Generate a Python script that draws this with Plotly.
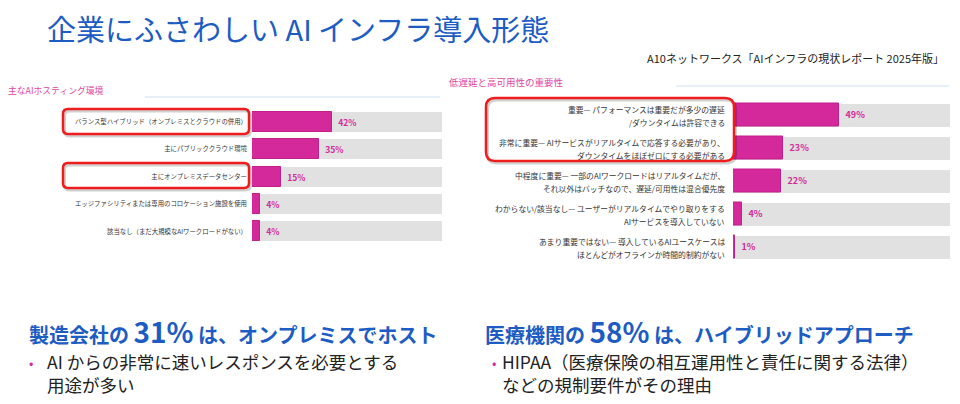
import plotly.graph_objects as go

W, H = 960, 404
FONT = "Noto Sans CJK JP"

# ---------------- data ----------------
hosting_labels = [
    "バランス型ハイブリッド（オンプレミスとクラウドの併用）",
    "主にパブリッククラウド環境",
    "主にオンプレミスデータセンター",
    "エッジファシリティまたは専用のコロケーション施設を使用",
    "該当なし（まだ大規模なAIワークロードがない）",
]
hosting_values = [42, 35, 15, 4, 4]

latency_lines = [
    ["重要— パフォーマンスは重要だが多少の遅延", "/ダウンタイムは許容できる"],
    ["非常に重要— AIサービスがリアルタイムで応答する必要があり、", "ダウンタイムをほぼゼロにする必要がある"],
    ["中程度に重要— 一部のAIワークロードはリアルタイムだが、", "それ以外はバッチなので、遅延/可用性は混合優先度"],
    ["わからない/該当なし— ユーザーがリアルタイムでやり取りをする", "AIサービスを導入していない"],
    ["あまり重要ではない— 導入しているAIユースケースは", "ほとんどがオフラインか時間的制約がない"],
]
latency_values = [49, 23, 22, 4, 1]
full_scale = 100

left_chart_title = "主なAIホスティング環境"
right_chart_title = "低遅延と高可用性の重要性"
main_title = "企業にふさわしい AI インフラ導入形態"
source_text = "A10ネットワークス「AIインフラの現状レポート 2025年版」"

# ---------------- style ----------------
PINK = "#d4299a"
PINK_EDGE = "#c21f8a"
GRAY = "#e1e1e1"
BLUE = "#1d5cc2"
RED = "#ee1c1c"

latency_labels = [" ".join(l) for l in latency_lines]


def px_x(x):
    return x / W


def px_y(y):
    return 1 - y / H


fig = go.Figure()

# left chart
fig.add_trace(go.Bar(x=[full_scale] * len(hosting_labels), y=hosting_labels, orientation="h",
                     marker=dict(color=GRAY, line=dict(width=0)), width=0.73,
                     xaxis="x", yaxis="y", hoverinfo="skip", showlegend=False))
fig.add_trace(go.Bar(x=hosting_values, y=hosting_labels, orientation="h",
                     marker=dict(color=PINK, line=dict(color=PINK_EDGE, width=1)), width=0.73,
                     texttemplate="\u00a0\u00a0<b>%{x}%</b>", textposition="outside",
                     textfont=dict(color=PINK, size=8.5, family=FONT), cliponaxis=False,
                     xaxis="x", yaxis="y", showlegend=False))

# right chart
fig.add_trace(go.Bar(x=[full_scale] * len(latency_labels), y=latency_labels, orientation="h",
                     marker=dict(color=GRAY, line=dict(width=0)), width=0.70,
                     xaxis="x2", yaxis="y2", hoverinfo="skip", showlegend=False))
fig.add_trace(go.Bar(x=latency_values, y=latency_labels, orientation="h",
                     marker=dict(color=PINK, line=dict(color=PINK_EDGE, width=1)), width=0.70,
                     texttemplate="\u00a0\u00a0<b>%{x}%</b>", textposition="outside",
                     textfont=dict(color=PINK, size=9, family=FONT), cliponaxis=False,
                     xaxis="x2", yaxis="y2", showlegend=False))

annotations = []

# right chart category labels (two lines each, anchored to the category axis)
for lab, lines in zip(latency_labels, latency_lines):
    for k, line in enumerate(lines):
        annotations.append(dict(xref="paper", yref="y2", x=px_x(727), y=lab,
                                yshift=6.5 - 13 * k, xanchor="right", yanchor="middle",
                                text=line, showarrow=False, height=12,
                                font=dict(size=7.8, color="#333333", family=FONT)))

annotations += [
    dict(x=px_x(45), y=px_y(28), text=main_title, font=dict(size=29, color=BLUE, family=FONT),
         xanchor="left"),
    dict(x=px_x(946), y=px_y(58), text=source_text, font=dict(size=11, color="#222222", family=FONT),
         xanchor="right"),
    dict(x=px_x(6), y=px_y(91), text=left_chart_title, font=dict(size=8.8, color="#e0489f", family=FONT),
         xanchor="left"),
    dict(x=px_x(447), y=px_y(82), text=right_chart_title, font=dict(size=9.5, color="#e0489f", family=FONT),
         xanchor="left"),
    # bottom left
    dict(x=px_x(27), y=px_y(331),
         text="<b>製造会社の <span style='font-size:28px'>31%</span> は、オンプレミスでホスト</b>",
         font=dict(size=20, color=BLUE, family=FONT), xanchor="left"),
    dict(x=px_x(27), y=px_y(362), text="•", font=dict(size=13, color=PINK, family=FONT), xanchor="left"),
    dict(x=px_x(45), y=px_y(372.5), text="AI からの非常に速いレスポンスを必要とする<br>用途が多い",
         align="left", font=dict(size=17.5, color="#222222", family=FONT), xanchor="left"),
    # bottom right
    dict(x=px_x(483), y=px_y(331),
         text="<b>医療機関の <span style='font-size:28px'>58%</span> は、ハイブリッドアプローチ</b>",
         font=dict(size=20, color=BLUE, family=FONT), xanchor="left"),
    dict(x=px_x(490), y=px_y(362), text="•", font=dict(size=13, color=PINK, family=FONT), xanchor="left"),
    dict(x=px_x(500), y=px_y(372.5), text="HIPAA（医療保険の相互運用性と責任に関する法律）<br>などの規制要件がその理由",
         align="left", font=dict(size=17.5, color="#222222", family=FONT), xanchor="left"),
]
for a in annotations[len(latency_labels) * 2:]:
    a.update(xref="paper", yref="paper", yanchor="middle", showarrow=False)


def rrect(x0, y0, x1, y1, r):
    rx, ry = r / W, r / H
    X0, X1 = px_x(x0), px_x(x1)
    Y0, Y1 = px_y(y0), px_y(y1)  # Y0 top (larger), Y1 bottom
    return (f"M {X0+rx},{Y0} L {X1-rx},{Y0} Q {X1},{Y0} {X1},{Y0-ry} "
            f"L {X1},{Y1+ry} Q {X1},{Y1} {X1-rx},{Y1} "
            f"L {X0+rx},{Y1} Q {X0},{Y1} {X0},{Y1+ry} "
            f"L {X0},{Y0-ry} Q {X0},{Y0} {X0+rx},{Y0} Z")


shapes = [
    dict(type="line", xref="paper", yref="paper", x0=px_x(145), x1=px_x(440), y0=px_y(97), y1=px_y(97),
         line=dict(color="#cfe0f2", width=1)),
    dict(type="line", xref="paper", yref="paper", x0=px_x(676), x1=px_x(949), y0=px_y(86), y1=px_y(86),
         line=dict(color="#cfe0f2", width=1)),
]
boxes = [(63, 109, 249, 134, 5), (63, 163, 249, 188, 5), (486, 98, 734, 161, 9)]
for (x0, y0, x1, y1, r) in boxes:
    shapes.append(dict(type="path", xref="paper", yref="paper", path=rrect(x0 + 1.5, y0 + 2, x1 + 1.5, y1 + 2, r),
                       line=dict(color="rgba(0,0,0,0.18)", width=3), layer="above"))
    shapes.append(dict(type="path", xref="paper", yref="paper", path=rrect(x0, y0, x1, y1, r),
                       line=dict(color=RED, width=2.5), layer="above"))

fig.update_layout(
    width=W, height=H, margin=dict(l=0, r=0, t=0, b=0),
    paper_bgcolor="white", plot_bgcolor="white",
    barmode="overlay", bargap=0,
    font=dict(family=FONT),
    xaxis=dict(domain=[px_x(252), px_x(442)], range=[0, 100], visible=False, fixedrange=True),
    yaxis=dict(domain=[px_y(245), px_y(108)], range=[4.5, -0.5], showgrid=False, zeroline=False,
               showline=False, ticks="", ticklabelstandoff=4,
               tickfont=dict(size=6.4, color="#333333", family=FONT), automargin=False, anchor="x"),
    xaxis2=dict(domain=[px_x(733), px_x(950)], range=[0, 100], visible=False, anchor="y2", fixedrange=True),
    yaxis2=dict(domain=[px_y(263.5), px_y(98.5)], range=[4.5, -0.5], showgrid=False, zeroline=False,
                showline=False, ticks="", showticklabels=False, anchor="x2", automargin=False),
    annotations=annotations,
    shapes=shapes,
    hovermode=False,
)

fig.write_html("out.html")
